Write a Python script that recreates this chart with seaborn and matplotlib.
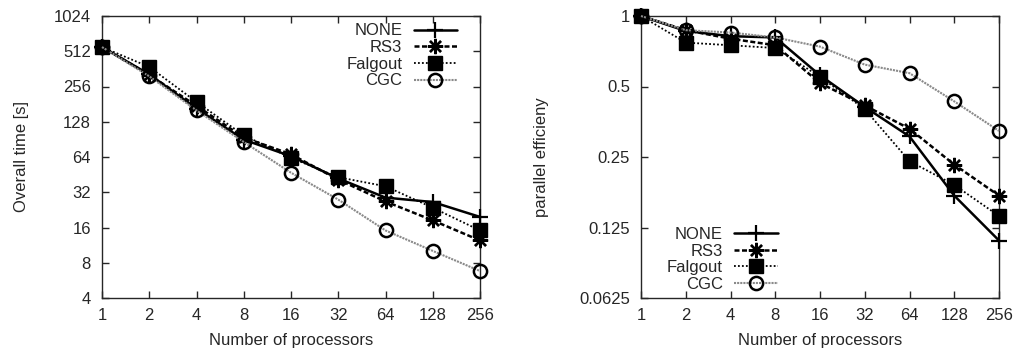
import matplotlib
matplotlib.use("Agg")
import matplotlib.pyplot as plt
import seaborn as sns
import pandas as pd
from matplotlib.ticker import FixedLocator, FixedFormatter, NullLocator

procs = [1, 2, 4, 8, 16, 32, 64, 128, 256]
series_names = ["NONE", "RS3", "Falgout", "CGC"]

time_none = [556, 325, 166, 90, 65, 42, 28.8, 26.4, 19.7]
time_rs3 = [556, 322, 175, 94, 67.5, 41, 26.7, 18.4, 12.4]
time_falgout = [556, 376, 189, 98, 63, 43, 36, 23.6, 15.1]
time_cgc = [556, 313, 160, 86, 47, 27.7, 15.1, 10.1, 6.8]

eff_none = [1.0, 0.863, 0.82, 0.81, 0.558, 0.409, 0.306, 0.171, 0.110]
eff_rs3 = [1.0, 0.87, 0.80, 0.75, 0.517, 0.415, 0.33, 0.232, 0.171]
eff_falgout = [1.0, 0.77, 0.75, 0.73, 0.55, 0.40, 0.24, 0.19, 0.14]
eff_cgc = [1.0, 0.87, 0.85, 0.81, 0.74, 0.62, 0.57, 0.432, 0.323]

time_ticks = [4, 8, 16, 32, 64, 128, 256, 512, 1024]
eff_ticks = [0.0625, 0.125, 0.25, 0.5, 1]
eff_tick_labels = ["0.0625", "0.125", "0.25", "0.5", "1"]

styles = {
    "NONE": dict(color="black", linestyle="-", marker="+", markersize=12, lw=1.8, mew=1.6, mec="black"),
    "RS3": dict(color="black", linestyle=(0, (2.0, 1.0)), marker=(8, 2, 0), markersize=11, lw=1.8, mew=1.7, mec="black"),
    "Falgout": dict(color="black", linestyle=(0, (1, 1.2)), marker="s", markersize=10, lw=1.3, mew=1, mec="black"),
    "CGC": dict(color="#8a8a8a", linestyle=(0, (1, 0.5)), marker="o", markersize=9.5, lw=1.5, mew=1.8, mec="black", mfc="none"),
}

sns.set_style("ticks")
plt.rcParams["font.family"] = ["Liberation Sans", "DejaVu Sans"]
FS = 12

fig = plt.figure(figsize=(10.16, 3.53), dpi=100)
ax1 = fig.add_axes([102/1016, 1-298/353, (480-102)/1016, (298-16)/353])
ax2 = fig.add_axes([641/1016, 1-298/353, (999-641)/1016, (298-16)/353])

time_data = {"NONE": time_none, "RS3": time_rs3, "Falgout": time_falgout, "CGC": time_cgc}
eff_data = {"NONE": eff_none, "RS3": eff_rs3, "Falgout": eff_falgout, "CGC": eff_cgc}

for ax, data in [(ax1, time_data), (ax2, eff_data)]:
    for name in series_names:
        df = pd.DataFrame({"p": procs, "v": data[name]})
        st = styles[name]
        kw = dict(markersize=st["markersize"], markeredgewidth=st["mew"], markeredgecolor=st["mec"])
        kw["markerfacecolor"] = st.get("mfc", "black")
        sns.lineplot(data=df, x="p", y="v", ax=ax, color=st["color"], linestyle=st["linestyle"],
                     marker=st["marker"], lw=st["lw"], label=name, clip_on=False, zorder=3, **kw)
    ax.set_xscale("log", base=2)
    ax.set_yscale("log", base=2)
    ax.set_xlim(1, 256)
    ax.xaxis.set_major_locator(FixedLocator(procs))
    ax.xaxis.set_major_formatter(FixedFormatter([str(p) for p in procs]))
    ax.xaxis.set_minor_locator(NullLocator())
    ax.yaxis.set_minor_locator(NullLocator())
    ax.tick_params(direction="in", which="both", top=True, right=True, length=5, width=1,
                   labelsize=FS)
    ax.tick_params(axis="x", pad=7)
    ax.tick_params(axis="y", pad=8)
    for s in ax.spines.values():
        s.set_visible(True)
        s.set_linewidth(1)
    ax.set_xlabel("Number of processors", fontsize=FS)
    ax.xaxis.set_label_coords(0.5, (298-333)/282, transform=ax.transAxes)

ax1.set_ylim(4, 1024)
ax1.yaxis.set_major_locator(FixedLocator(time_ticks))
ax1.yaxis.set_major_formatter(FixedFormatter([str(t) for t in time_ticks]))
ax1.set_ylabel("Overall time [s]", fontsize=FS)
ax1.yaxis.set_label_coords((29-102)/378, 0.5)

ax2.set_ylim(0.0625, 1)
ax2.yaxis.set_major_locator(FixedLocator(eff_ticks))
ax2.yaxis.set_major_formatter(FixedFormatter(eff_tick_labels))
ax2.set_ylabel("parallel efficieny", fontsize=FS)
ax2.yaxis.set_label_coords((549-641)/358, 0.5)

for ax, loc, anchor in [(ax1, "upper right", (0.966, 1.009)), (ax2, "lower left", (0.044, -0.014))]:
    leg = ax.legend(loc=loc, bbox_to_anchor=anchor, frameon=False, markerfirst=False,
                    handlelength=2.6, handletextpad=0.7, labelspacing=0.1, fontsize=FS,
                    borderaxespad=0.2)
    leg._legend_box.align = "right"
    for t in leg.get_texts():
        t.set_ha("right")

fig.savefig("out.png", dpi=100)
